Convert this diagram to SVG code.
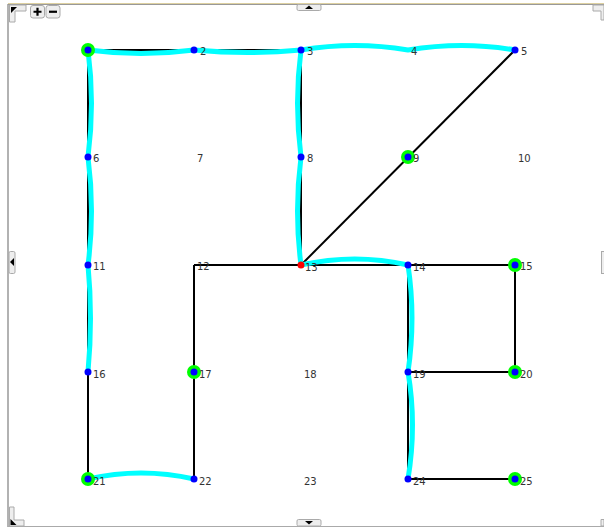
<svg xmlns="http://www.w3.org/2000/svg" width="604" height="528" viewBox="0 0 604 528">
<style>
.e{stroke:#000;stroke-width:2;fill:none}
.p{stroke:#00ffff;stroke-width:5;fill:none;stroke-linecap:round}
.d{fill:#0000ff}
.g{fill:#00ff00}
.l{font-family:"DejaVu Sans",sans-serif;font-size:10px;fill:#333}
.tab{fill:#eee;stroke:#aaa;stroke-width:1}
.ar{fill:#000}
</style>
<rect x="0" y="0" width="604" height="528" fill="#fff"/>
<g id="frame">
<line x1="8" y1="3.5" x2="604" y2="3.5" stroke="#ddd0a0" stroke-width="1"/>
<line x1="8" y1="4.5" x2="604" y2="4.5" stroke="#999" stroke-width="1"/>
<line x1="8" y1="4" x2="8" y2="527" stroke="#999" stroke-width="1.5"/>
<line x1="8" y1="526.5" x2="604" y2="526.5" stroke="#aaa" stroke-width="1"/>
<path class="tab" d="M9.5,5 H26 V11 H15 V22 H9.5 Z"/>
<path class="ar" d="M11,7 H17 L11,13 Z"/>
<rect class="tab" x="30.5" y="5.5" width="14" height="12.5" rx="2.5"/>
<rect class="tab" x="46" y="5.5" width="14" height="12.5" rx="2.5"/>
<path d="M33.5,11.75 H41.5 M37.5,7.75 V15.75" stroke="#000" stroke-width="2.2"/>
<path d="M49,11.75 H57" stroke="#000" stroke-width="2.2"/>
<rect class="tab" x="297" y="4.5" width="24" height="6" rx="1.5"/>
<path class="ar" d="M305,9 L309,5.5 L313,9 Z"/>
<rect class="tab" x="297" y="519.5" width="24" height="6.5" rx="1.5"/>
<path class="ar" d="M305,521 L309,524.5 L313,521 Z"/>
<rect class="tab" x="9" y="251.5" width="6" height="22" rx="1.5"/>
<path class="ar" d="M14,258 L10,262 L14,266 Z"/>
<rect class="tab" x="601.5" y="251.5" width="4" height="22"/>
<path class="tab" d="M9.5,526 V507 H14 V520 H24 V526 Z"/>
<path class="ar" d="M10.5,519 V525 H16.5 Z"/>
<path class="tab" d="M604,519.5 H601 V526 H604 Z"/>
<path class="tab" d="M593,5 H604 V20 H601 V11 H593 Z"/>
</g>
<g id="connectors">
<path class="e" d="M88,50 H301"/>
<path class="e" d="M88,50 V479"/>
<path class="e" d="M301,50 V265"/>
<path class="e" d="M515,50 L301,265"/>
<path class="e" d="M194,265 H515"/>
<path class="e" d="M194,265 V479"/>
<path class="e" d="M515,265 V372"/>
<path class="e" d="M408,265 V479"/>
<path class="e" d="M408,372 H515"/>
<path class="e" d="M408,479 H515"/>
</g>
<g id="route">
<path class="p" d="M88,50 Q141,57 194,50 Q248,55 301,50 Q355,41 408,50 Q462,41 515,50"/>
<path class="p" d="M88,50 Q95,103 88,157 Q95,211 88,265 Q93,318 88,372"/>
<path class="p" d="M301,50 Q294,103 301,157 Q294,211 301,265"/>
<path class="p" d="M301,265 Q355,253 408,265"/>
<path class="p" d="M408,265 Q416,318 408,372 Q417,425 408,479"/>
<path class="p" d="M88,479 Q141,467 194,479"/>
</g>
<g id="n1"><circle class="g" cx="88" cy="50" r="7"/><circle class="d" cx="88" cy="50" r="3.5"/></g>
<g id="n2"><circle class="d" cx="194" cy="50" r="3.5"/><text class="l" x="200" y="55">2</text></g>
<g id="n3"><circle class="d" cx="301" cy="50" r="3.5"/><text class="l" x="307" y="55">3</text></g>
<g id="n4"><text class="l" x="411" y="55">4</text></g>
<g id="n5"><circle class="d" cx="515" cy="50" r="3.5"/><text class="l" x="521" y="55">5</text></g>
<g id="n6"><circle class="d" cx="88" cy="157" r="3.5"/><text class="l" x="93" y="162">6</text></g>
<g id="n7"><text class="l" x="197" y="162">7</text></g>
<g id="n8"><circle class="d" cx="301" cy="157" r="3.5"/><text class="l" x="307" y="162">8</text></g>
<g id="n9"><circle class="g" cx="408" cy="157" r="7"/><circle class="d" cx="408" cy="157" r="3.5"/><text class="l" x="413" y="162">9</text></g>
<g id="n10"><text class="l" x="518" y="162">10</text></g>
<g id="n11"><circle class="d" cx="88" cy="265" r="3.5"/><text class="l" x="93" y="270">11</text></g>
<g id="n12"><text class="l" x="197" y="270">12</text></g>
<g id="n13"><circle fill="#ff0000" cx="301" cy="265" r="3.5"/><text class="l" x="305" y="271">13</text></g>
<g id="n14"><circle class="d" cx="408" cy="265" r="3.5"/><text class="l" x="413" y="271">14</text></g>
<g id="n15"><circle class="g" cx="515" cy="265" r="7"/><circle class="d" cx="515" cy="265" r="3.5"/><text class="l" x="520" y="270">15</text></g>
<g id="n16"><circle class="d" cx="88" cy="372" r="3.5"/><text class="l" x="93" y="378">16</text></g>
<g id="n17"><circle class="g" cx="194" cy="372" r="7"/><circle class="d" cx="194" cy="372" r="3.5"/><text class="l" x="199" y="378">17</text></g>
<g id="n18"><text class="l" x="304" y="378">18</text></g>
<g id="n19"><circle class="d" cx="408" cy="372" r="3.5"/><text class="l" x="413" y="378">19</text></g>
<g id="n20"><circle class="g" cx="515" cy="372" r="7"/><circle class="d" cx="515" cy="372" r="3.5"/><text class="l" x="520" y="378">20</text></g>
<g id="n21"><circle class="g" cx="88" cy="479" r="7"/><circle class="d" cx="88" cy="479" r="3.5"/><text class="l" x="93" y="485">21</text></g>
<g id="n22"><circle class="d" cx="194" cy="479" r="3.5"/><text class="l" x="199" y="485">22</text></g>
<g id="n23"><text class="l" x="304" y="485">23</text></g>
<g id="n24"><circle class="d" cx="408" cy="479" r="3.5"/><text class="l" x="413" y="485">24</text></g>
<g id="n25"><circle class="g" cx="515" cy="479" r="7"/><circle class="d" cx="515" cy="479" r="3.5"/><text class="l" x="520" y="485">25</text></g>
</svg>
